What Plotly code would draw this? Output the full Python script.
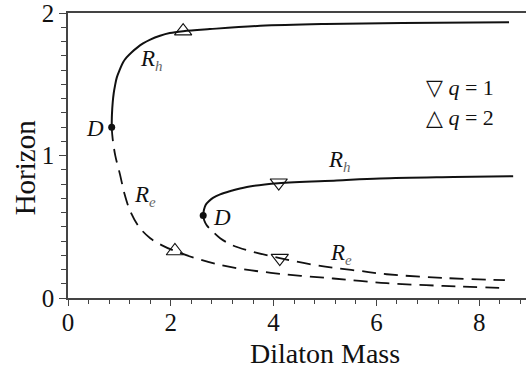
import plotly.graph_objects as go

# Horizon radii versus dilaton mass (q = 2 branch on the left, q = 1 on the right)
q2_rh_x = [0.85, 0.855, 0.87, 0.89, 0.914, 0.95, 1.01, 1.07, 1.14, 1.24, 1.34, 1.46,
           1.60, 1.79, 1.98, 2.24, 2.76, 3.74, 5.00, 6.50, 8.58]
q2_rh_y = [1.20, 1.29, 1.375, 1.44, 1.49, 1.55, 1.606, 1.655, 1.69, 1.727, 1.757, 1.788,
           1.815, 1.842, 1.861, 1.874, 1.889, 1.912, 1.925, 1.932, 1.937]
q2_re_x = [0.85, 0.86, 0.875, 0.92, 1.01, 1.10, 1.21, 1.38, 1.60, 1.83, 2.08, 2.57,
           3.20, 4.12, 5.16, 5.68, 6.20, 7.30, 8.50]
q2_re_y = [1.20, 1.15, 1.10, 1.00, 0.87, 0.73, 0.61, 0.50, 0.42, 0.37, 0.33, 0.27,
           0.215, 0.17, 0.137, 0.12, 0.104, 0.085, 0.07]

q1_rh_x = [2.63, 2.645, 2.68, 2.74, 2.82, 2.96, 3.15, 3.48, 4.09, 5.23, 6.07, 7.50, 8.66]
q1_rh_y = [0.58, 0.62, 0.655, 0.68, 0.703, 0.728, 0.75, 0.78, 0.806, 0.826, 0.84, 0.85, 0.856]
q1_re_x = [2.63, 2.65, 2.70, 2.82, 2.96, 3.20, 3.54, 4.12, 4.70, 5.16, 5.68, 6.20, 7.30, 8.50]
q1_re_y = [0.58, 0.545, 0.51, 0.465, 0.42, 0.37, 0.33, 0.28, 0.238, 0.212, 0.19, 0.167, 0.141, 0.125]

# Degenerate points D where the two horizons meet
d_x = [0.85, 2.63]
d_y = [1.20, 0.58]

# Marked solutions for each charge
q1_mark_x = [4.10, 4.12]
q1_mark_y = [0.81, 0.28]
q2_mark_x = [2.24, 2.08]
q2_mark_y = [1.875, 0.33]

x_ticks = [0, 2, 4, 6, 8]
y_ticks = [0, 1, 2]

FONT = "Liberation Serif, Times New Roman, DejaVu Serif, serif"
INK = "#111111"
AXC = "#444444"

fig = go.Figure()

solid = dict(color=INK, width=2, shape="spline", smoothing=1.0)
dashed = dict(color=INK, width=1.8, shape="spline", smoothing=1.0, dash="14px,8px")

for xs, ys, ln in [(q2_rh_x, q2_rh_y, solid), (q2_re_x, q2_re_y, dashed),
                   (q1_rh_x, q1_rh_y, solid), (q1_re_x, q1_re_y, dashed)]:
    fig.add_trace(go.Scatter(x=xs, y=ys, mode="lines", line=ln,
                             showlegend=False, hoverinfo="skip"))

fig.add_trace(go.Scatter(x=q2_mark_x, y=q2_mark_y, mode="markers",
                         marker=dict(symbol="triangle-up-open", size=15,
                                     color=INK, line=dict(width=1.1, color=INK)),
                         showlegend=False))
fig.add_trace(go.Scatter(x=q1_mark_x, y=q1_mark_y, mode="markers",
                         marker=dict(symbol="triangle-down-open", size=15,
                                     color=INK, line=dict(width=1.1, color=INK)),
                         showlegend=False))
fig.add_trace(go.Scatter(x=d_x, y=d_y, mode="markers",
                         marker=dict(symbol="circle", size=7, color=INK),
                         showlegend=False))


def radius_label(sub):
    return ("<i>R</i><sub><span style='font-size:15px;color:#666666'><i>"
            + sub + "</i></span></sub>")


labels = [
    (1.36, 1.67, "h"),
    (1.24, 0.72, "e"),
    (5.02, 0.96, "h"),
    (5.06, 0.31, "e"),
]
for x, y, s in labels:
    fig.add_annotation(x=x, y=y, text=radius_label(s), showarrow=False, xanchor="left",
                       yanchor="middle", font=dict(family=FONT, size=23, color=INK))

for x, y in [(0.516, 1.19), (3.0, 0.565)]:
    fig.add_annotation(x=x, y=y, text="<i>D</i>", showarrow=False,
                       font=dict(family=FONT, size=23, color=INK))

for y, t in [(1.48, "\u25BD <i>q</i> = 1"), (1.265, "\u25B3 <i>q</i> = 2")]:
    fig.add_annotation(x=8.33, y=y, text=t, showarrow=False, xanchor="right",
                       font=dict(family=FONT, size=22, color=INK))

# Axis titles
fig.add_annotation(xref="paper", yref="paper", x=0.561, y=-0.194, text="Dilaton Mass",
                   showarrow=False, xanchor="center", yanchor="middle",
                   font=dict(family=FONT, size=28, color=INK))
fig.add_annotation(xref="paper", yref="paper", x=-0.092, y=0.458, text="Horizon",
                   showarrow=False, xanchor="center", yanchor="middle", textangle=-90,
                   font=dict(family=FONT, size=29, color=INK))

axis_common = dict(showgrid=False, zeroline=False, showline=True, linecolor=AXC,
                   linewidth=1.5, ticks="outside", tickcolor=AXC, tickwidth=1.3,
                   ticklabeloverflow="allow",
                   tickfont=dict(family=FONT, size=25, color=INK))

fig.update_xaxes(range=[0, 8.91], tickvals=x_ticks, ticklen=6, mirror=True,
                 ticklabelstandoff=-5,
                 minor=dict(dtick=0.4, ticks="outside", ticklen=4, tickcolor=AXC,
                            tickwidth=1.3, showgrid=False),
                 **axis_common)
fig.update_yaxes(range=[0, 2.002], tickvals=y_ticks, ticklen=7, mirror=False,
                 minor=dict(dtick=0.1, ticks="outside", ticklen=5, tickcolor=AXC,
                            tickwidth=1.3, showgrid=False),
                 **axis_common)

fig.update_layout(width=526, height=370, margin=dict(l=68, r=0, t=10, b=72),
                  plot_bgcolor="white", paper_bgcolor="white",
                  font=dict(family=FONT, color=INK))

fig.write_html("out.html")
